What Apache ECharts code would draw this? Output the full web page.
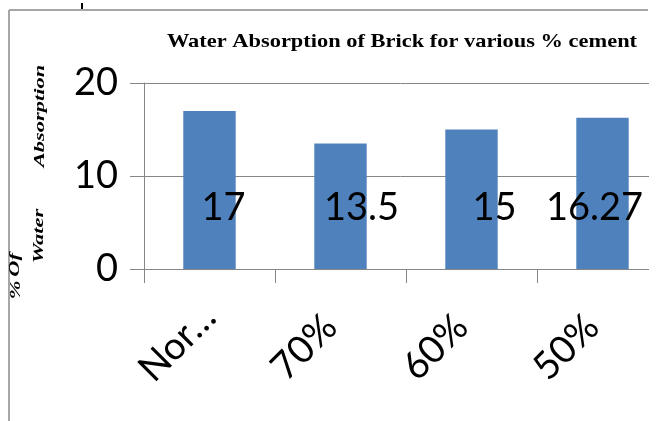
<!DOCTYPE html>
<html>
<head>
<meta charset="utf-8">
<script src="https://cdn.jsdelivr.net/npm/echarts@6/dist/echarts.min.js"></script>
<style>html,body{margin:0;padding:0;background:#fff}#c1{width:656px;height:421px}</style>
</head>
<body>
<div id="c1"></div>
<script>
var categories = ['Normal', '70%', '60%', '50%'];
var absorption = [17, 13.5, 15, 16.27];
var yTicks = [0, 10, 20];
// excel left its labels a bit off centre, copy that
var labelNudge = [14, 21, 23, -8];

var chart = echarts.init(document.getElementById('c1'));
var sansFont = 'Lato, "Open Sans", sans-serif';
var serifFont = '"Liberation Serif", "DejaVu Serif", serif';
var lineGray = '#868686';

var barData = absorption.map(function (v, i) {
   return { value: v, label: { offset: [labelNudge[i], 0] } };
});

// truncated first label sits a little further up the slope
var xData = categories.map(function (c, i) {
   return i === 0 ? { value: c, textStyle: { padding: 0 } } : c;
});

// rotated axis title, excel squeezed it into odd pieces
function sideText(txt, x, y) {
   return {
      type: 'text', x: x, y: y, rotation: Math.PI / 2, scaleX: 1.5,
      style: {
         text: txt, fill: '#000',
         font: 'italic bold 15px ' + serifFont,
         textAlign: 'center', textVerticalAlign: 'middle'
      }
   };
}

var option = {
   animation: false,
   grid: { left: 144, top: 83, right: -12, bottom: 152, containLabel: false, outerBoundsMode: 'none' },
   xAxis: {
      type: 'category',
      data: xData,
      axisLine: { lineStyle: { color: lineGray, width: 1 } },
      axisTick: { show: true, length: 14, alignWithLabel: false, lineStyle: { color: lineGray } },
      axisLabel: {
         interval: 0, rotate: 45, margin: 42, padding: [0, 14, 0, 0],
         fontSize: 38, fontFamily: sansFont, color: '#000',
         width: 112, overflow: 'truncate', ellipsis: '…'
      },
      splitLine: { show: false }
   },
   yAxis: {
      type: 'value',
      min: yTicks[0], max: yTicks[yTicks.length - 1], interval: yTicks[1] - yTicks[0],
      axisLine: { show: true, lineStyle: { color: lineGray, width: 1 } },
      axisTick: { show: true, length: 14, lineStyle: { color: lineGray } },
      axisLabel: { margin: 26, fontSize: 38, fontFamily: sansFont, color: '#000' },
      splitLine: { show: true, lineStyle: { color: lineGray, width: 1 } }
   },
   series: [{
      type: 'bar',
      data: barData,
      barWidth: '40%',
      itemStyle: { color: '#4f81bd' },
      label: {
         show: true, position: 'insideBottom', distance: 42,
         fontSize: 38, fontFamily: sansFont, color: '#000'
      }
   }],
   graphic: [
      // plot in the source is cut off just short of the right edge
      { type: 'rect', z: 100, shape: { x: 649, y: 70, width: 7, height: 220 }, style: { fill: '#fff' } },
      { type: 'line', shape: { x1: 9, y1: 10, x2: 648, y2: 10 }, style: { stroke: '#a6a6a6', lineWidth: 2 } },
      { type: 'line', shape: { x1: 9, y1: 10, x2: 9, y2: 421 }, style: { stroke: '#a6a6a6', lineWidth: 2 } },
      { type: 'line', shape: { x1: 82, y1: 3, x2: 82, y2: 9 }, style: { stroke: '#000', lineWidth: 2 } },
      {
         type: 'text', x: 402, y: 42, scaleX: 1.18,
         style: {
            text: 'Water Absorption of Brick for various % cement', fill: '#000',
            font: 'bold 19px ' + serifFont,
            textAlign: 'center', textVerticalAlign: 'middle'
         }
      },
      sideText('Absorption', 40, 116),
      sideText('Water', 39, 236),
      sideText('Of', 15, 265),
      sideText('%', 16, 290)
   ]
};
chart.setOption(option);
</script>
</body>
</html>
